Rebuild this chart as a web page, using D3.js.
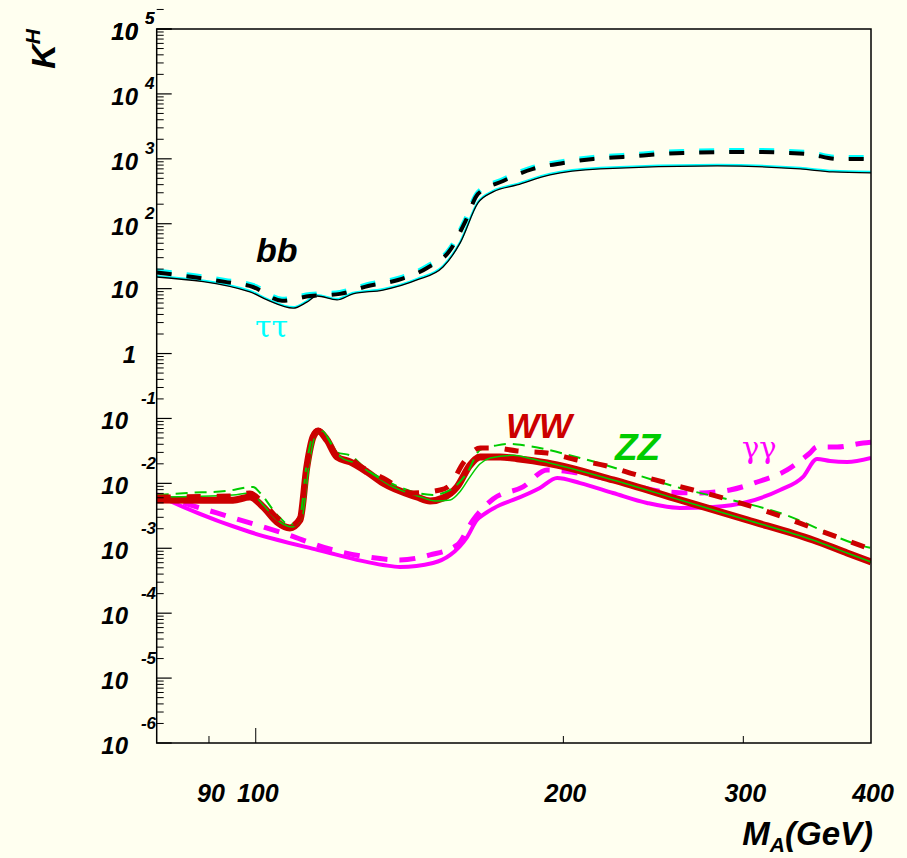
<!DOCTYPE html>
<html>
<head>
<meta charset="utf-8">
<script src="https://cdn.jsdelivr.net/npm/d3@7"></script>
<style>
  body { margin: 0; background: #fffff0; }
  text { font-family: "Liberation Sans", Arial, sans-serif; font-weight: bold; font-style: italic; }
</style>
</head>
<body>
<div id="chart"></div>
<script>
// [M_A (GeV), K^H]
const bbSolid = [[80,15.1],[98.7,8.9],[102.6,6.7],[108.8,5.0],[112.2,6.2],[114.8,7.7],[120.1,6.7],[124.5,8.3],
  [133.2,9.5],[143.8,13.6],[152.5,21.6],[158.5,50.6],[165.0,209],[170.7,309],[180.2,396],[194.1,565],
  [217.3,699],[282.8,778],[341,699],[367,628],[400,607]];
const bbDashed = [[80,17.7],[86.8,15.1],[93.3,12.7],[99.4,10.6],[106.1,6.5],[113.0,7.7],[120.9,8.3],[128.8,11.0],
  [137.8,13.6],[147.1,20.8],[155.0,39.5],[160.3,107],[165.0,288],[174.6,456],[186.8,699],[200.0,863],
  [213.9,996],[228.8,1069],[262.0,1232],[302.6,1277],[346.4,1189],[370.6,996],[400,996]];

const wwSolid = [[80,0.00555],[95.0,0.0055],[98.7,0.00617],[101.7,0.00433],[104.9,0.00254],[108.0,0.00206],
  [110.5,0.00273],[112.2,0.0179],[113.8,0.0519],[115.1,0.0642],[117.4,0.0467],[120.1,0.0255],[123.7,0.0214],
  [128.5,0.0150],[133.2,0.0101],[143.8,0.00617],[148.1,0.00536],[152.5,0.00596],[157.4,0.00881],
  [162.1,0.0192],[165.8,0.0255],[173.4,0.0255],[180.2,0.0240],[192.8,0.0206],[223.7,0.0113],
  [260.1,0.00555],[302.6,0.00273],[351.0,0.00134],[379.0,0.000847],[400,0.000615]];
const zzSolid = [[80,0.00617],[95.0,0.00663],[98.7,0.00711],[101.7,0.00465],[104.9,0.00273],[108.5,0.00213],
  [111.0,0.0030],[112.8,0.0192],[114.5,0.058],[116.0,0.066],[118.0,0.0467],[121.0,0.0255],[125.0,0.0206],
  [130.0,0.0140],[135.0,0.0095],[145.0,0.00617],[150.0,0.00536],[155.0,0.00555],[158.5,0.0075],
  [162.0,0.0125],[165.8,0.0200],[169.6,0.0245],[178.6,0.0270],[186.0,0.0240],[193.0,0.0210],
  [223.7,0.0113],[260.1,0.00555],[302.6,0.00273],[351.0,0.00134],[379.0,0.000847],[400,0.000615]];
const wwDashed = [[80,0.00617],[95.0,0.0064],[98.7,0.0071],[101.7,0.0050],[104.9,0.0030],[108.0,0.0022],
  [110.5,0.0030],[112.2,0.0185],[113.8,0.054],[115.1,0.066],[117.4,0.048],[120.1,0.0274],[123.7,0.0238],
  [127.4,0.0173],[133.2,0.0121],[142.5,0.00711],[151.5,0.00791],[155.0,0.0095],[159.6,0.0206],
  [165.8,0.0351],[170.7,0.0351],[180.2,0.0316],[192.8,0.0294],[206.3,0.0229],[220.7,0.0185],
  [234.0,0.0140],[250.4,0.0105],[267.9,0.00791],[286.6,0.00596],[306.7,0.00433],[325.9,0.00315],
  [348.6,0.00213],[373.1,0.00144],[400,0.00097]];
const zzDashed = [[80,0.00663],[85.7,0.00711],[93.7,0.00764],[99.4,0.00881],[101.0,0.00711],[104.9,0.0033],
  [108.0,0.0023],[110.5,0.0031],[112.2,0.021],[113.8,0.056],[115.3,0.067],[117.4,0.052],[120.1,0.030],
  [123.7,0.027],[128.5,0.0161],[133.2,0.0116],[149.1,0.00663],[155.0,0.00791],[161.0,0.0145],
  [165.8,0.0327],[172.2,0.0385],[177.4,0.0405],[184.3,0.0380],[207.7,0.0246],[260.1,0.0085],
  [325.9,0.0035],[393.0,0.00108],[400,0.00101]];

const aaSolid = [[80,0.00663],[84.9,0.00433],[98.7,0.00178],[115.1,0.000942],[133.2,0.000553],[138.4,0.000515],
  [149.1,0.000594],[155.0,0.000789],[161.0,0.00149],[164.6,0.00273],[166.9,0.00326],[173.4,0.00465],
  [178.6,0.00555],[189.7,0.0085],[197.2,0.0121],[207.7,0.0101],[223.7,0.00711],[241.5,0.00499],
  [260.1,0.00418],[280.2,0.00433],[302.6,0.00517],[325.9,0.00791],[343.2,0.0126],[354.2,0.0238],
  [364.8,0.0221],[379.0,0.0214],[400,0.0246]];
const aaDashed = [[80,0.00663],[91.6,0.0035],[106.3,0.00172],[119.0,0.000942],[128.5,0.000735],[138.4,0.000661],
  [148.1,0.000789],[157.4,0.00112],[163.2,0.00273],[170.7,0.00575],[182.6,0.00881],[192.8,0.0161],
  [206.3,0.0145],[225.0,0.0110],[252.6,0.00737],[270.3,0.00711],[291.1,0.00791],[309.5,0.0105],
  [331.1,0.0161],[348.6,0.0294],[354.2,0.0364],[370.6,0.0364],[393.0,0.0419],[400,0.043]];

const yExponents = d3.range(-6, 6);
const xTickValues = [90, 100, 200, 300];
const xTickLabels = [90, 100, 200, 300, 400];

const width = 907, height = 858;
const margin = {top: 29, right: 36, bottom: 115, left: 156.7};

const svg = d3.select("#chart").append("svg")
    .attr("width", width)
    .attr("height", height)
    .style("background", "#fffff0");

const x = d3.scaleLog().domain([80, 400]).range([margin.left, width - margin.right]);
const y = d3.scaleLog().domain([1e-6, 1e5]).range([height - margin.bottom, margin.top]);

svg.append("clipPath").attr("id", "plotClip")
  .append("rect")
    .attr("x", margin.left).attr("y", margin.top)
    .attr("width", x(400) - x(80)).attr("height", y(1e-6) - y(1e5));

const line = d3.line()
    .x(d => x(d[0]))
    .y(d => y(d[1]))
    .curve(d3.curveMonotoneX);

const curves = svg.append("g").attr("clip-path", "url(#plotClip)").attr("fill", "none");

function drawCurve(data, color, w, dash, dy) {
  curves.append("path")
      .datum(data)
      .attr("d", line)
      .attr("stroke", color)
      .attr("stroke-width", w)
      .attr("stroke-dasharray", dash || null)
      .attr("transform", dy ? `translate(0,${dy})` : null);
}

// bb and tau tau (tau tau lies on top of bb)
drawCurve(bbSolid, "#00ffff", 2.2, null, -1);
drawCurve(bbSolid, "#000", 1.3);
drawCurve(bbDashed, "#00ffff", 5, "15,15", -1.5);
drawCurve(bbDashed, "#000", 4, "15,15");

// gamma gamma
drawCurve(aaSolid, "#ff00ff", 4);
drawCurve(aaDashed, "#ff00ff", 5, "16,12");

// WW and ZZ
drawCurve(wwSolid, "#cc0000", 7);
drawCurve(zzSolid, "#00cc00", 1.5);
drawCurve(zzDashed, "#00cc00", 2, "12,7");
drawCurve(wwDashed, "#cc0000", 5, "14,16");

// frame
svg.append("rect")
    .attr("x", x(80)).attr("y", y(1e5))
    .attr("width", x(400) - x(80)).attr("height", y(1e-6) - y(1e5))
    .attr("fill", "none").attr("stroke", "#000").attr("stroke-width", 1.5);

// y ticks
const yMinor = [];
yExponents.forEach(e => { for (let m = 2; m <= 9; m++) yMinor.push(m * Math.pow(10, e)); });
const yTicks = svg.append("g").attr("stroke", "#000");
yTicks.selectAll(".minor").data(yMinor).join("line")
    .attr("x1", x(80)).attr("x2", x(80) + 7)
    .attr("y1", d => y(d)).attr("y2", d => y(d))
    .attr("stroke-width", 1);
yTicks.selectAll(".major").data(yExponents.concat([5])).join("line")
    .attr("x1", x(80)).attr("x2", x(80) + 15)
    .attr("y1", d => y(Math.pow(10, d))).attr("y2", d => y(Math.pow(10, d)))
    .attr("stroke-width", 1.2);

// y labels
const yLab = svg.append("g").attr("fill", "#000");
yExponents.concat([5]).forEach(e => {
  const ty = y(Math.pow(10, e));
  if (e === 0) {
    yLab.append("text").attr("x", 136).attr("y", ty + 9).attr("text-anchor", "end")
        .style("font-size", "24px").text("1");
  } else if (e === 1) {
    yLab.append("text").attr("x", 138).attr("y", ty + 9).attr("text-anchor", "end")
        .style("font-size", "24px").text("10");
  } else if (e > 1) {
    yLab.append("text").attr("x", 138).attr("y", ty + 11).attr("text-anchor", "end")
        .style("font-size", "24px").text("10");
    yLab.append("text").attr("x", 145).attr("y", ty - 5)
        .style("font-size", "17px").text(e);
  } else {
    yLab.append("text").attr("x", 128).attr("y", ty + 11).attr("text-anchor", "end")
        .style("font-size", "24px").text("10");
    yLab.append("text").attr("x", 156).attr("y", ty - 14).attr("text-anchor", "end")
        .style("font-size", "17px").text(e);
  }
});

// x ticks
svg.append("g").selectAll("line").data(xTickValues).join("line")
    .attr("x1", d => x(d)).attr("x2", d => x(d))
    .attr("y1", y(1e-6)).attr("y2", d => y(1e-6) - (d === 100 ? 15 : 7))
    .attr("stroke", "#000").attr("stroke-width", 1);

svg.append("g").selectAll("text").data(xTickLabels).join("text")
    .attr("x", d => x(d) + 2)
    .attr("y", 802)
    .attr("text-anchor", "middle")
    .style("font-size", "25px")
    .text(d => d);

// axis titles
const xTitle = svg.append("text")
    .attr("x", 873).attr("y", 845)
    .attr("text-anchor", "end")
    .style("font-size", "33px");
xTitle.append("tspan").text("M");
xTitle.append("tspan").attr("dy", 7).style("font-size", "21px").text("A");
xTitle.append("tspan").attr("dy", -7).text("(GeV)");

const yTitle = svg.append("text")
    .attr("transform", "translate(55,29) rotate(-90)")
    .attr("text-anchor", "end")
    .style("font-size", "34px");
yTitle.append("tspan").text("K");
yTitle.append("tspan").attr("dy", -15).style("font-size", "21px").text("H");

// curve labels
svg.append("text").attr("x", 256).attr("y", 262).style("font-size", "34px").attr("fill", "#000").text("bb");
svg.append("text").attr("x", 506).attr("y", 438).style("font-size", "35px").attr("fill", "#cc0000").text("WW");
svg.append("text").attr("x", 615).attr("y", 460).style("font-size", "37px").attr("fill", "#00cc00").text("ZZ");
svg.append("text").attr("x", 255).attr("y", 337)
    .style("font-family", "'DejaVu Serif', serif")
    .style("font-weight", "normal").style("font-style", "normal")
    .style("font-size", "30px").attr("fill", "#00ffff").text("ττ");
svg.append("text").attr("x", 742).attr("y", 458)
    .style("font-family", "'DejaVu Serif', serif")
    .style("font-weight", "normal").style("font-style", "normal")
    .style("font-size", "29px").attr("fill", "#ff00ff").text("γγ");
</script>
</body>
</html>
